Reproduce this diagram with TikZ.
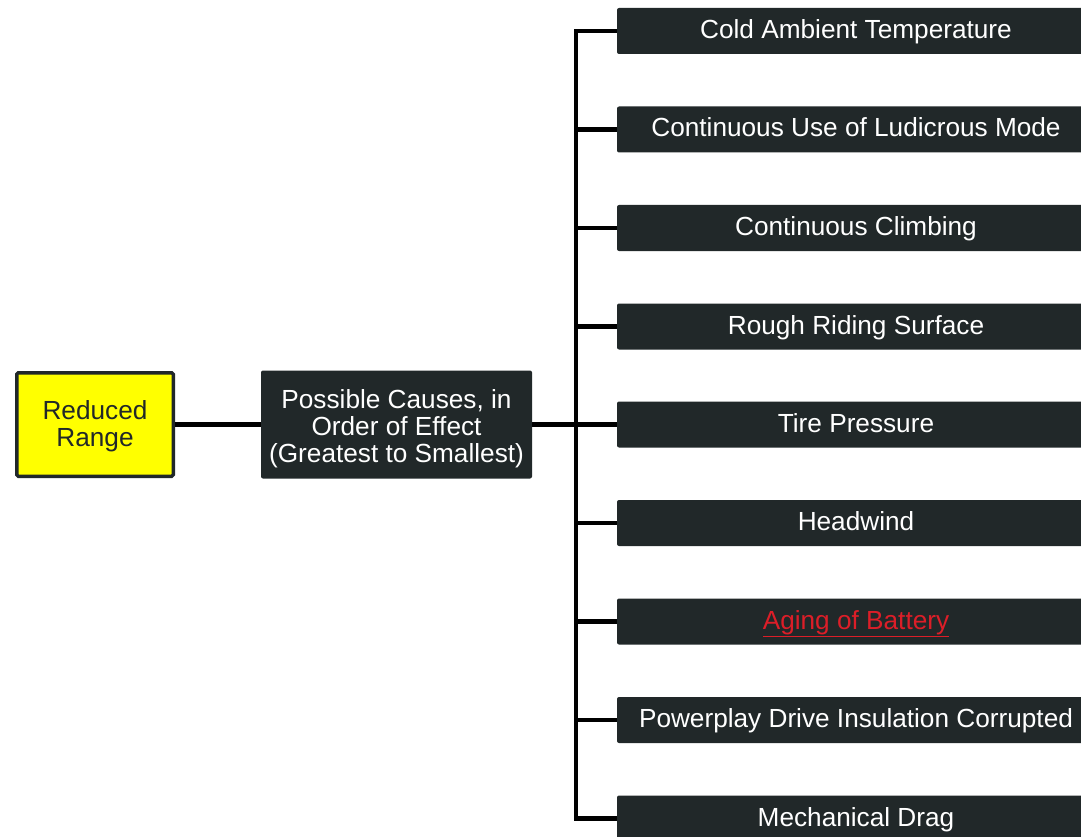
\documentclass[tikz,border=0pt]{standalone}
\usepackage{fontspec}
\setmainfont{Liberation Sans}
\usepackage{xcolor}
\usepackage{tikz}

\definecolor{boxdark}{RGB}{33,40,41}
\definecolor{linkred}{RGB}{220,30,40}
\definecolor{rangeyellow}{RGB}{255,255,0}

\begin{document}
\begin{tikzpicture}[x=1pt,y=-1pt,
  bigtext/.style={font=\fontsize{26.2}{26.8}\selectfont,align=center},
  cause/.style={bigtext,fill=boxdark,text=white,rounded corners=2pt,
    minimum width=478pt,minimum height=46pt,inner sep=0pt,
    text height=19pt,text depth=4pt},
  link/.style={line width=4.5pt,black}]
\useasboundingbox (0,0) rectangle (1081,837);
\clip (0,0) rectangle (1081,837);

% the effect and the group of causes
\node[bigtext,draw=boxdark,line width=3.5pt,fill=rangeyellow,text=boxdark,
  rounded corners=1.5pt,minimum width=156.5pt,minimum height=103.5pt,inner sep=0pt,
  text height=44pt,text depth=0pt]
  (range) at (95,424.5) {Reduced\\Range};
\node[bigtext,fill=boxdark,text=white,rounded corners=2pt,
  minimum width=271pt,minimum height=108pt,inner sep=0pt,
  text height=75pt,text depth=0pt]
  (causes) at (396.5,424.5) {Possible Causes, in\\Order of Effect\\(Greatest to Smallest)};

% the single causes
\node[cause] (c1) at (856,31) {Cold Ambient Temperature};
\node[cause] (c2) at (856,129.5) {Continuous Use of Ludicrous Mode};
\node[cause] (c3) at (856,228) {Continuous Climbing};
\node[cause] (c4) at (856,326.5) {Rough Riding Surface};
\node[cause] (c5) at (856,424.5) {Tire Pressure};
\node[cause] (c6) at (856,523) {Headwind};
\node[cause] (c7) at (856,621.5) {\textcolor{linkred}{\underline{Aging of Battery}}};
\node[cause] (c8) at (856,720) {Powerplay Drive Insulation Corrupted};
\node[cause] (c9) at (856,818.5) {Mechanical Drag};

% connectors
\coordinate (hub) at (576,424.5);
\draw[link] (range.east) -- (causes.west);
\draw[link] (causes.east) -- (hub);
\foreach \i in {1,...,9}
  \draw[link] (c\i.west) -| (hub);
\end{tikzpicture}
\end{document}
